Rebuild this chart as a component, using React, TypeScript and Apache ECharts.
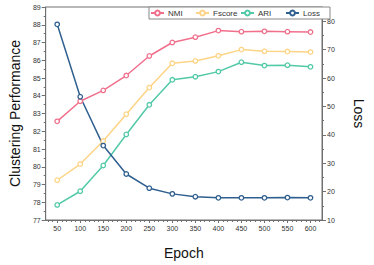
import React, { useEffect, useRef } from "react";
import * as echarts from "echarts";

const epochs = [50, 100, 150, 200, 250, 300, 350, 400, 450, 500, 550, 600];
const nmi = [82.56, 83.69, 84.3, 85.14, 86.24, 87.0, 87.3, 87.67, 87.61, 87.63, 87.61, 87.59];
const fscore = [79.24, 80.15, 81.45, 82.96, 84.46, 85.83, 85.96, 86.25, 86.6, 86.51, 86.49, 86.46];
const ari = [77.85, 78.62, 80.07, 81.82, 83.49, 84.9, 85.07, 85.36, 85.89, 85.7, 85.72, 85.63];
const loss = [78.9, 53.4, 36.2, 26.2, 21.2, 19.2, 18.2, 17.8, 17.8, 17.8, 17.9, 17.8];
const leftTicks = [77, 78, 79, 80, 81, 82, 83, 84, 85, 86, 87, 88, 89];
const rightTicks = [10, 20, 30, 40, 50, 60, 70, 80];
const rightMinor = [15, 25, 35, 45, 55, 65, 75];
const xMinor: number[] = [30, 40, 60, 70, 80, 90, 110, 120, 130, 140, 160, 170, 180, 190, 210, 220, 230, 240, 260, 270, 280, 290, 310, 320, 330, 340, 360, 370, 380, 390, 410, 420, 430, 440, 460, 470, 480, 490, 510, 520, 530, 540, 560, 570, 580, 590, 610, 620];

const AXIS = "#707070";
const LABEL = "#333";

function pairs(vals: number[]) {
  return epochs.map((e, i) => [e, vals[i]]);
}

export default function App() {
  const ref = useRef<HTMLDivElement>(null);
  useEffect(() => {
    if (!ref.current) return;
    const chart = echarts.init(ref.current, undefined, { renderer: "svg" });
    const font = "Liberation Sans, Arial, sans-serif";
    const mk = (name: string, data: number[], color: string, yi: number) => ({
      name,
      type: "line",
      yAxisIndex: yi,
      data: pairs(data),
      symbol: "circle",
      symbolSize: 4.5,
      lineStyle: { color, width: 1.5 },
      itemStyle: { color: "#fff", borderColor: color, borderWidth: 1.3 },
      emphasis: { disabled: true },
    });
    chart.setOption({
      animation: false,
      textStyle: { fontFamily: font },
      grid: { left: 42, right: 43, top: 7, bottom: 40, show: true, borderColor: AXIS, borderWidth: 1 },
      legend: {
        left: 149,
        top: 7,
        padding: [1, 0, 1, 1],
        itemGap: 0,
        itemWidth: 13,
        itemHeight: 6,
        borderColor: "#888",
        borderWidth: 1,
        backgroundColor: "#fff",
        textStyle: { fontSize: 8, width: 27, lineHeight: 10, color: "#333", padding: [0, 0, 0, -1] },
        data: [
          { name: "NMI", itemStyle: { color: "#fff", borderColor: "#F0708C" } },
          { name: "Fscore", itemStyle: { color: "#fff", borderColor: "#FDD486" } },
          { name: "ARI", itemStyle: { color: "#fff", borderColor: "#52C9A7" } },
          { name: "Loss", itemStyle: { color: "#fff", borderColor: "#2F5F8E" } },
        ],
      },
      xAxis: [
        {
          type: "value",
          min: 25,
          max: 625,
          name: "Epoch",
          nameLocation: "middle",
          nameGap: 26,
          nameTextStyle: { fontSize: 14, color: "#111" },
          axisLine: { lineStyle: { color: AXIS } },
          axisTick: { customValues: epochs, length: 3, lineStyle: { color: AXIS } },
          axisLabel: { customValues: epochs, fontSize: 7, color: LABEL, margin: 5 },
          splitLine: { show: false },
        },
        {
          type: "value",
          min: 25,
          max: 625,
          position: "bottom",
          axisLine: { show: false },
          axisTick: { customValues: xMinor, length: 2, lineStyle: { color: AXIS } },
          axisLabel: { show: false },
          splitLine: { show: false },
        },
      ],
      yAxis: [
        {
          type: "value",
          min: 77,
          max: 89,
          interval: 1,
          name: "Clustering Performance",
          nameLocation: "middle",
          nameGap: 23,
          nameTextStyle: { fontSize: 14, color: "#111" },
          axisLine: { show: true, lineStyle: { color: AXIS } },
          axisTick: { show: true, length: 4, lineStyle: { color: AXIS } },
          minorTick: { show: true, splitNumber: 2, length: 2, lineStyle: { color: AXIS } },
          axisLabel: { fontSize: 7, color: LABEL, margin: 5 },
          splitLine: { show: false },
        },
        {
          type: "value",
          min: 10,
          max: 85,
          position: "right",
          name: "Loss",
          nameLocation: "middle",
          nameGap: 30,
          nameRotate: -90,
          nameTextStyle: { fontSize: 14, color: "#111" },
          axisLine: { show: true, lineStyle: { color: AXIS } },
          axisTick: { show: true, customValues: rightTicks, length: 4, lineStyle: { color: AXIS } },
          axisLabel: { customValues: rightTicks, fontSize: 7, color: LABEL, margin: 5 },
          splitLine: { show: false },
        },
        {
          type: "value",
          min: 10,
          max: 85,
          position: "right",
          axisLine: { show: false },
          axisTick: { show: true, customValues: rightMinor, length: 2, lineStyle: { color: AXIS } },
          axisLabel: { show: false },
          splitLine: { show: false },
        },
      ],
      series: [
        mk("NMI", nmi, "#F0708C", 0),
        mk("Fscore", fscore, "#FDD486", 0),
        mk("ARI", ari, "#52C9A7", 0),
        mk("Loss", loss, "#2F5F8E", 1),
      ],
    });
    return () => chart.dispose();
  }, []);
  return <div ref={ref} style={{ width: 374, height: 265, position: "absolute", left: 0, top: 0 }} />;
}
